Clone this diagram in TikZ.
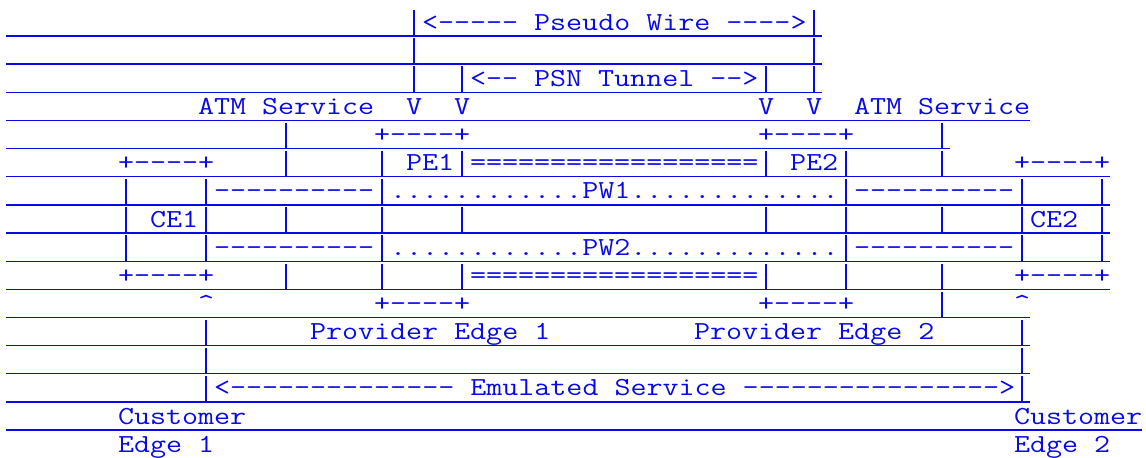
\documentclass[tikz,border=0pt]{standalone}
\usepackage{fontspec}
\setmonofont{Latin Modern Mono}[FakeStretch=1.1966]
\definecolor{ab}{RGB}{10,10,230}
\tikzset{
  txt/.style={anchor=base west, inner sep=0pt, outer sep=0pt, text=ab,
    font=\fontsize{19.5}{24}\selectfont\ttfamily},
  vbar/.style={draw=ab, line width=1pt},
  hrule/.style={draw=ab, line width=1pt}
}
% text segment: name, column, row, text
\newcommand\seg[4]{\node[txt] (#1) at ({6+16*#2},{30+28.15*(#3-1)}) {#4};}
% vertical bars: row, list of columns
\newcommand\vbars[2]{\foreach \bcol in {#2} {\draw[vbar] ({6+16*(\bcol+0.5)},{36+28.15*(#1-2)+2.3}) -- ({6+16*(\bcol+0.5)},{36+28.15*(#1-1)});}}
% horizontal rule under row: row, last column
\newcommand\hrow[2]{\draw[hrule] (6,{36+28.15*(#1-1)}) -- ({6+16*(#2+1)},{36+28.15*(#1-1)});}
\begin{document}
\begin{tikzpicture}[x=0.75pt,y=-0.75pt]
\fill[white] (0,0) rectangle (1146,457);
\useasboundingbox (0,0) rectangle (1146,457);
% horizontal rules
\hrow{1}{50}\hrow{2}{50}\hrow{3}{50}\hrow{4}{63}\hrow{5}{58}
\hrow{6}{68}\hrow{7}{68}\hrow{8}{68}\hrow{9}{68}\hrow{10}{68}
\hrow{11}{63}\hrow{12}{63}\hrow{13}{63}\hrow{14}{63}\hrow{15}{70}
% vertical bars
\vbars{1}{25,50}
\vbars{2}{25,50}
\vbars{3}{25,28,47,50}
\vbars{5}{17,58}
\vbars{6}{17,23,28,47,52,58}
\vbars{7}{7,12,23,52,63,68}
\vbars{8}{7,12,17,23,28,47,52,58,63,68}
\vbars{9}{7,12,23,52,63,68}
\vbars{10}{17,23,28,47,52,58}
\vbars{11}{58}
\vbars{12}{12,63}
\vbars{13}{12,63}
\vbars{14}{12,63}
% texts
\seg{pw}{26}{1}{<----- Pseudo Wire ---->}
\seg{psn}{29}{3}{<-- PSN Tunnel -->}
\seg{atml}{12}{4}{ATM Service}
\seg{va}{25}{4}{V}
\seg{vb}{28}{4}{V}
\seg{vc}{47}{4}{V}
\seg{vd}{50}{4}{V}
\seg{atmr}{53}{4}{ATM Service}
\seg{pe1top}{23}{5}{+----+}
\seg{pe2top}{47}{5}{+----+}
\seg{ce1top}{7}{6}{+----+}
\seg{pe1}{25}{6}{PE1}
\seg{eqa}{29}{6}{==================}
\seg{pe2}{49}{6}{PE2}
\seg{ce2top}{63}{6}{+----+}
\seg{da}{13}{7}{----------}
\seg{pw1}{24}{7}{............PW1.............}
\seg{db}{53}{7}{----------}
\seg{ce1}{9}{8}{CE1}
\seg{ce2}{64}{8}{CE2}
\seg{dc}{13}{9}{----------}
\seg{pw2}{24}{9}{............PW2.............}
\seg{dd}{53}{9}{----------}
\seg{ce1bot}{7}{10}{+----+}
\seg{eqb}{29}{10}{==================}
\seg{ce2bot}{63}{10}{+----+}
\seg{cara}{12}{11}{\textasciicircum}
\seg{pe1bot}{23}{11}{+----+}
\seg{pe2bot}{47}{11}{+----+}
\seg{carb}{63}{11}{\textasciicircum}
\seg{prov1}{19}{12}{Provider Edge 1}
\seg{prov2}{43}{12}{Provider Edge 2}
\seg{emu}{13}{14}{<-------------- Emulated Service ---------------->}
\seg{cust1}{7}{15}{Customer}
\seg{cust2}{63}{15}{Customer}
\seg{edge1}{7}{16}{Edge 1}
\seg{edge2}{63}{16}{Edge 2}
\end{tikzpicture}
\end{document}
